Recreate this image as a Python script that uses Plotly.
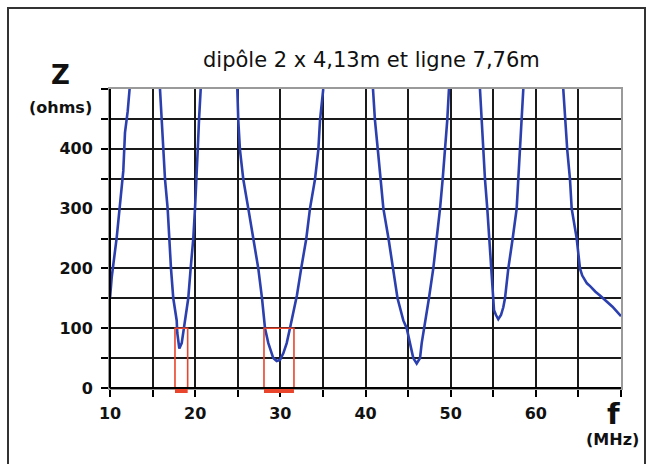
import plotly.graph_objects as go

# impedance of the dipole + line vs frequency
# (None = gap where the curve goes off the top of the chart)
freq = [10.0, 10.2, 10.79, 11.17, 11.56, 11.76, 12.08, 12.3, None,
        15.87, 16.07, 16.46, 16.77, 16.96, 17.16, 17.43, 17.83, 17.9, 18.14, 18.42, 18.6, 18.8,
        19.19, 19.47, 19.78, 19.98, 20.18, 20.3, 20.45, 20.65, None,
        24.95, 25.06, 25.26, 25.65, 26.24, 26.83, 27.41, 27.85, 28.2, 28.59, 29.17, 29.57, 29.96,
        30.35, 30.75, 31.13, 31.6, 31.95, 32.45, 33.05, 33.48, 34.07, 34.46, 34.66, 35.04, None,
        40.88, 41.11, 41.45, 41.75, 42.1, 42.7, 43.26, 43.76, 44.44, 44.84, 45.22, 45.61, 46.01,
        46.4, 46.6, 46.9, 47.18, 47.45, 47.96, 48.36, 48.75, 49.06, 49.33, 49.6, 49.8, None,
        53.44, 53.64, 53.83, 54.03, 54.3, 54.53, 54.73, 54.93, 55.09, 55.32, 55.59, 55.91, 56.18,
        56.38, 56.77, 57.28, 57.75, 57.94, 58.14, 58.34, 58.53, None,
        63.22, 63.42, 63.69, 64.01, 64.21, 64.8, 65.18, 65.45, 66.0, 66.4, 67.0, 67.6, 68.3,
        69.0, 70.0]
z_ohms = [150, 185, 252, 302, 363, 427, 463, 500, None,
          500, 448, 349, 300, 250, 200, 150, 113, 92, 66, 75, 92, 113,
          150, 200, 250, 300, 349, 398, 448, 500, None,
          500, 448, 398, 349, 300, 250, 200, 150, 100, 75, 50, 45, 47,
          58, 75, 100, 130, 155, 200, 250, 300, 349, 398, 448, 500, None,
          500, 448, 398, 349, 300, 250, 200, 150, 113, 100, 75, 50, 41,
          50, 75, 100, 125, 150, 200, 250, 300, 349, 398, 448, 500, None,
          500, 448, 398, 349, 300, 250, 200, 150, 130, 122, 115, 122, 135,
          150, 200, 250, 300, 349, 398, 448, 500, None,
          500, 448, 398, 349, 300, 250, 200, 188, 175, 170, 161, 154, 145,
          136, 120]

# amateur bands marked in red (MHz) and the Z limit of the boxes
band_lo = [17.63, 28.08]
band_hi = [19.12, 31.6]
band_z = 100

x_ticks = [10, 20, 30, 40, 50, 60]
y_ticks = [0, 100, 200, 300, 400]

# page layout in pixels
W_PX, H_PX = 654, 464
L, R, T, B = 110, 33, 89, 76
PW, PH = W_PX - L - R, H_PX - T - B


def px(x):
    return (x - L) / PW


def py(y):
    return (H_PX - B - y) / PH


fig = go.Figure()
fig.add_trace(go.Scatter(x=freq, y=z_ohms, mode="lines", connectgaps=False,
                         line=dict(color="#2b3fae", width=2.6), hoverinfo="skip"))

red = "#e8452c"
for lo, hi in zip(band_lo, band_hi):
    fig.add_shape(type="rect", xref="x", yref="y", x0=lo, x1=hi, y0=0, y1=band_z,
                  line=dict(color=red, width=1.6), layer="above")
    # thick bar just under the axis
    fig.add_shape(type="rect", xref="x", yref="paper", ysizemode="pixel", yanchor=0,
                  x0=lo, x1=hi, y0=-5, y1=0, line_width=0, fillcolor=red, layer="above")

# left / bottom axis lines in black, top / right stay grey
fig.add_shape(type="line", xref="paper", yref="paper", x0=0, x1=0, y0=0, y1=1,
              line=dict(color="black", width=2), layer="above")
fig.add_shape(type="line", xref="paper", yref="paper", x0=0, x1=1, y0=0, y1=0,
              line=dict(color="black", width=2), layer="above")

# frame round the picture
fig.add_shape(type="rect", xref="paper", yref="paper", x0=px(8), x1=px(645),
              y0=py(475), y1=py(8), line=dict(color="#333333", width=2))

tick_font = dict(family="DejaVu Sans", size=16, color="#111111", weight="bold")
lab_font = dict(family="DejaVu Sans", color="#111111", weight="bold")


def label(txt, x, y, font):
    fig.add_annotation(text=txt, xref="paper", yref="paper", x=px(x), y=py(y),
                       xanchor="center", yanchor="middle", showarrow=False, font=font)


label("dipôle 2 x 4,13m et ligne 7,76m", 371, 60,
      dict(family="DejaVu Sans", size=21, color="#111111"))
label("Z", 60, 75, dict(lab_font, size=26))
label("(ohms)", 60, 108, dict(lab_font, size=16))
label("f", 613, 414, dict(lab_font, size=29))
label("(MHz)", 612, 440, dict(lab_font, size=16))

fig.update_xaxes(range=[10, 70], tickvals=x_ticks, ticks="outside", ticklen=7,
                 tickwidth=2, tickcolor="black", tickfont=tick_font, ticklabelstandoff=3,
                 showgrid=True, gridcolor="#1a1a1a", gridwidth=2,
                 minor=dict(dtick=5, ticks="outside", ticklen=7, tickwidth=2,
                            tickcolor="black", showgrid=True, gridcolor="#1a1a1a", gridwidth=2),
                 showline=True, mirror=True, linecolor="#9a9a9a", linewidth=2,
                 zeroline=False, fixedrange=True)
fig.update_yaxes(range=[0, 500], tickvals=y_ticks, ticks="outside", ticklen=7,
                 tickwidth=2, tickcolor="black", tickfont=tick_font, ticklabelstandoff=5,
                 showgrid=True, gridcolor="#1a1a1a", gridwidth=2,
                 minor=dict(dtick=50, ticks="outside", ticklen=7, tickwidth=2,
                            tickcolor="black", showgrid=True, gridcolor="#1a1a1a", gridwidth=2),
                 showline=True, mirror=True, linecolor="#9a9a9a", linewidth=2,
                 zeroline=False, fixedrange=True)

fig.update_layout(width=W_PX, height=H_PX, margin=dict(l=L, r=R, t=T, b=B),
                  paper_bgcolor="white", plot_bgcolor="white", showlegend=False)

# the page's default body margin would push the chart 8px off
fig.write_html("out.html", config={"displayModeBar": False},
               post_script="document.body.style.margin='0';")
